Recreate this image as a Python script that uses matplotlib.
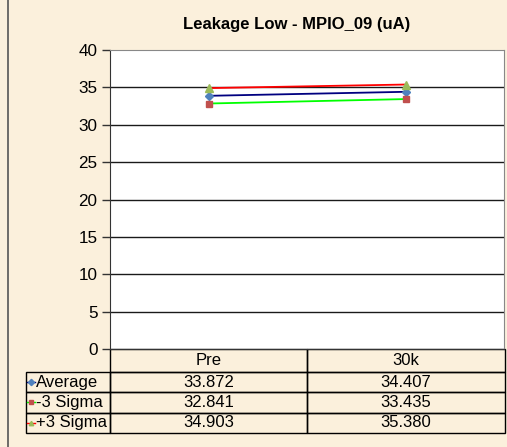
import matplotlib
matplotlib.use('Agg')
import matplotlib.pyplot as plt
from matplotlib.lines import Line2D

plt.rcParams['font.family'] = ['Liberation Sans', 'DejaVu Sans']

categories = ['Pre', '30k']
series_names = ['Average', '-3 Sigma', '+3 Sigma']
average = [33.872, 34.407]
minus3 = [32.841, 33.435]
plus3 = [34.903, 35.380]
yticks = [0, 5, 10, 15, 20, 25, 30, 35, 40]

# line colour, marker, marker colour for each series
styles = [('#000080', 'D', '#4F81BD', 4),
          ('#00FF00', 's', '#C0504D', 5),
          ('#FF0000', '^', '#9BBB59', 6)]
values = [average, minus3, plus3]

W, H = 507, 447
bg = '#FBF0DC'
fig = plt.figure(figsize=(W / 100, H / 100), dpi=100, facecolor=bg)
ax = fig.add_axes([110 / W, 1 - 349 / H, 394 / W, 299 / H])
ax.set_facecolor('white')

x = list(range(len(categories)))
for vals, (lc, mk, mc, ms) in zip(values, styles):
    ax.plot(x, vals, color=lc, lw=1.3, marker=mk, markersize=ms,
            markerfacecolor=mc, markeredgecolor=mc, zorder=3)

ax.set_xlim(-0.5, len(categories) - 0.5)
ax.set_ylim(0, 40)
ax.set_yticks(yticks)
ax.set_xticks([])
ax.tick_params(axis='y', direction='out', length=6, width=1, colors='#333333',
               labelsize=12.3, labelcolor='black', pad=3)
for y in yticks[1:-1]:
    ax.axhline(y, color='#1a1a1a', lw=1, zorder=1)
ax.spines['left'].set_color('#333333')
ax.spines['bottom'].set_color('#333333')
ax.spines['top'].set_color('#888888')
ax.spines['right'].set_color('#888888')

fig.text(297 / W, 1 - 25 / H, 'Leakage Low - MPIO_09 (uA)', ha='center', va='center',
         fontsize=12, fontweight='bold')

# data table under the plot
cell_text = [[name] + ['%.3f' % v for v in vals] for name, vals in zip(series_names, values)]
tab = ax.table(cellText=cell_text, colLabels=[''] + categories,
               colWidths=[84, 197, 198], cellLoc='center',
               bbox=[(26 - 110) / 394, -(433 - 349) / 299, (505 - 26) / 394, 84 / 299])
tab.auto_set_font_size(False)
tab.set_fontsize(12)
for (r, c), cell in tab.get_celld().items():
    cell.set_facecolor('none')
    cell.set_edgecolor('black')
    cell.set_linewidth(1)
    cell.set_height(23 if r == 0 else 20.3)
    if r == 0 and c == 0:
        cell.visible_edges = ''
    if r > 0 and c == 0:
        cell._loc = 'left'
        cell.PAD = 0.115
        cell.get_text().set_ha('left')

# legend keys in the row labels
row_mid = [382, 402, 422.5]
for ym, (lc, mk, mc, ms) in zip(row_mid, styles):
    yy = (349 - ym) / 299
    ax.add_line(Line2D([(27 - 110) / 394, (35 - 110) / 394], [yy, yy], color=lc, lw=1,
                       transform=ax.transAxes, clip_on=False))
    ax.add_line(Line2D([(31 - 110) / 394], [yy], marker=mk, markersize=3.2,
                       color=mc, transform=ax.transAxes, clip_on=False))

# outer chart border
fig.add_artist(Line2D([8 / W, 8 / W], [0, 1], color='#555555', lw=1.2,
                      transform=fig.transFigure))

fig.savefig('out.png', dpi=100, facecolor=bg)
